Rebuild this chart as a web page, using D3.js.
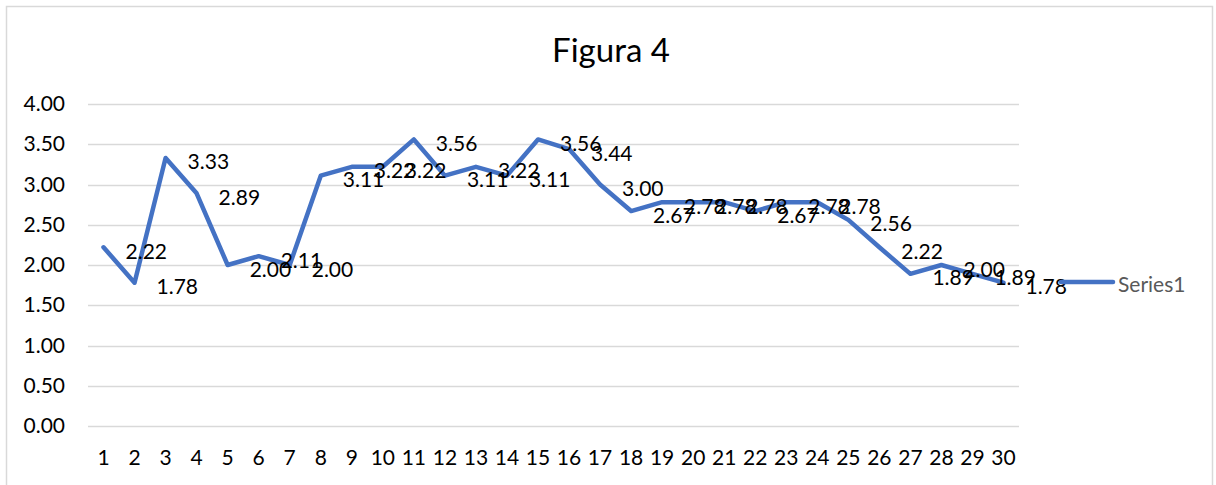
<!DOCTYPE html>
<html>
<head>
<meta charset="utf-8">
<script src="https://cdn.jsdelivr.net/npm/d3@7"></script>
<style>
  html, body { margin: 0; padding: 0; background: #fff; }
  svg { display: block; }
  text { font-family: Lato, "Open Sans", sans-serif; }
</style>
</head>
<body>
<svg id="chart" width="1216" height="485"></svg>
<script>
const categories = ["1","2","3","4","5","6","7","8","9","10","11","12","13","14","15","16","17","18","19","20","21","22","23","24","25","26","27","28","29","30"];
const series1 = [2.22,1.78,3.33,2.89,2.00,2.11,2.00,3.11,3.22,3.22,3.56,3.11,3.22,3.11,3.56,3.44,3.00,2.67,2.78,2.78,2.78,2.67,2.78,2.78,2.56,2.22,1.89,2.00,1.89,1.78];
const yTicks = [0,0.5,1,1.5,2,2.5,3,3.5,4];
const seriesName = "Series1";
const titleText = "Figura 4";

const svg = d3.select("#chart");
const plot = {left: 88, right: 1019, top: 104, bottom: 426};

// chart border
svg.append("rect").attr("x", 6.5).attr("y", 6.5).attr("width", 1206).attr("height", 500)
  .attr("fill", "#fff").attr("stroke", "#d9d9d9").attr("stroke-width", 1.5);

const x = d3.scaleBand().domain(categories).range([plot.left, plot.right]);
const y = d3.scaleLinear().domain([0, 4]).range([plot.bottom, plot.top]);

// gridlines
svg.append("g").selectAll("line").data(yTicks).join("line")
  .attr("x1", plot.left).attr("x2", plot.right)
  .attr("y1", d => Math.round(y(d)) + 0.5).attr("y2", d => Math.round(y(d)) + 0.5)
  .attr("stroke", "#d9d9d9").attr("stroke-width", 1.3);

// y axis labels
const yAxis = d3.axisLeft(y).tickValues(yTicks).tickFormat(d3.format(".2f")).tickSize(0).tickPadding(23);
const gy = svg.append("g").attr("transform", `translate(${plot.left},0)`).call(yAxis);
gy.select(".domain").remove();
gy.selectAll("text").attr("font-size", 21).attr("fill", "#000").attr("font-family", "Lato, sans-serif");

// x axis labels
const xAxis = d3.axisBottom(x).tickSize(0).tickPadding(24);
const gx = svg.append("g").attr("transform", `translate(0,${plot.bottom})`).call(xAxis);
gx.select(".domain").remove();
gx.selectAll("text").attr("font-size", 21).attr("fill", "#000").attr("font-family", "Lato, sans-serif");

// line
const line = d3.line()
  .x((d, i) => x(categories[i]) + x.bandwidth() / 2)
  .y(d => y(d));
svg.append("path").datum(series1)
  .attr("d", line)
  .attr("fill", "none").attr("stroke", "#4472c4").attr("stroke-width", 4.5)
  .attr("stroke-linejoin", "round").attr("stroke-linecap", "round");

// data labels (right of point)
svg.append("g").selectAll("text").data(series1).join("text")
  .attr("x", (d, i) => x(categories[i]) + x.bandwidth() / 2 + 22)
  .attr("y", d => y(d) + 3)
  .attr("dominant-baseline", "central")
  .attr("font-size", 21).attr("fill", "#000")
  .text(d => d3.format(".2f")(d));

// legend
const lg = svg.append("g");
lg.append("line").attr("x1", 1061).attr("x2", 1113).attr("y1", 282).attr("y2", 282)
  .attr("stroke", "#4472c4").attr("stroke-width", 4.5).attr("stroke-linecap", "round");
lg.append("text").attr("x", 1118).attr("y", 283).attr("dominant-baseline", "central")
  .attr("font-size", 21).attr("fill", "#595959").text(seriesName);

// title
svg.append("text").attr("x", 611).attr("y", 49).attr("text-anchor", "middle")
  .attr("dominant-baseline", "central").attr("font-size", 33).attr("fill", "#000").text(titleText);
</script>
</body>
</html>
